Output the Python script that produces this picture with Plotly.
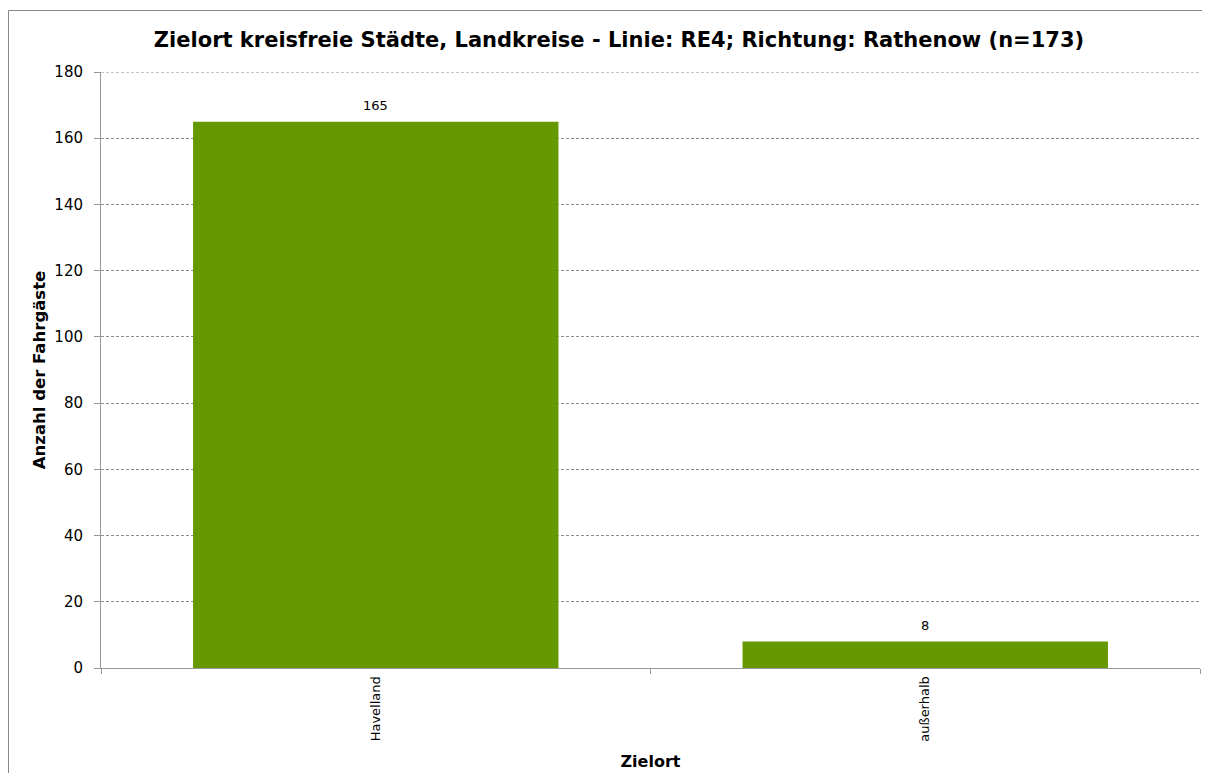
import plotly.graph_objects as go

categories = ["Havelland", "außerhalb"]
values = [165, 8]
y_ticks = [0, 20, 40, 60, 80, 100, 120, 140, 160, 180]

# page has an 8px body margin, so the figure is drawn 8px in from the window edges
OFF = 8
W, H = 1210 - 2 * OFF, 781 - 2 * OFF
ml, mr, mt, mb = 101 - OFF, W - (1200 - OFF), 72 - OFF, H - (668 - OFF)
pw, ph = W - ml - mr, H - mt - mb
FONT = "DejaVu Sans"

fig = go.Figure(go.Bar(
    x=categories, y=values,
    marker=dict(color="#669900", line=dict(width=0)),
    width=0.665,
    cliponaxis=False,
))

for c, v in zip(categories, values):
    fig.add_annotation(x=c, y=v, text=str(v), showarrow=False,
                       yanchor="bottom", yshift=7,
                       font=dict(family=FONT, size=13, color="#000000"))

# top gridline (hidden by plotly at range edge)
fig.add_shape(type="line", xref="paper", yref="y", x0=0, x1=1,
              y0=y_ticks[-1], y1=y_ticks[-1],
              line=dict(color="#8c8c8c", width=1, dash="3px,2px"), layer="below")

# outer chart border (window pixel -> paper); only top and left edges are visible
def px(x):
    return (x - OFF - ml) / pw

def py(y):
    return 1 - (y - OFF - mt) / ph

fig.add_shape(type="line", xref="paper", yref="paper",
              x0=px(8.5), x1=px(1260), y0=py(10.5), y1=py(10.5),
              line=dict(color="#888888", width=1), layer="below")
fig.add_shape(type="line", xref="paper", yref="paper",
              x0=px(8.5), x1=px(8.5), y0=py(10.5), y1=py(830),
              line=dict(color="#888888", width=1), layer="below")

fig.update_layout(
    width=W, height=H,
    margin=dict(l=ml, r=mr, t=mt, b=mb, autoexpand=False),
    paper_bgcolor="white", plot_bgcolor="white",
    showlegend=False,
    title=dict(text="<b>Zielort kreisfreie Städte, Landkreise - Linie: RE4; Richtung: Rathenow (n=173)</b>",
               x=(619 - OFF) / W, xanchor="center", y=1 - (40 - OFF) / H, yanchor="middle",
               font=dict(family=FONT, size=21, color="#000000")),
    font=dict(family=FONT, color="#000000"),
    bargap=0.335,
)
fig.update_xaxes(
    automargin=False,
    showline=True, linecolor="#999999", linewidth=1,
    ticks="outside", tickson="boundaries", ticklen=5, tickcolor="#999999",
    tickangle=-90, tickfont=dict(family=FONT, size=13, color="#000000"),
    ticklabelstandoff=2,
    title=dict(text="<b>Zielort</b>", font=dict(family=FONT, size=16, color="#000000"), standoff=15),
    showgrid=False,
)
fig.update_yaxes(
    automargin=False,
    range=[0, 180], tickvals=y_ticks,
    showline=True, linecolor="#999999", linewidth=1,
    ticks="outside", ticklen=6, tickcolor="#999999",
    tickfont=dict(family=FONT, size=15, color="#000000"),
    ticklabelstandoff=8,
    showgrid=True, gridcolor="#8c8c8c", griddash="3px,2px", gridwidth=1,
    zeroline=False,
    title=dict(text="<b>Anzahl der Fahrgäste</b>", font=dict(family=FONT, size=16.5, color="#000000"), standoff=4),
)

fig.write_html("out.html")
